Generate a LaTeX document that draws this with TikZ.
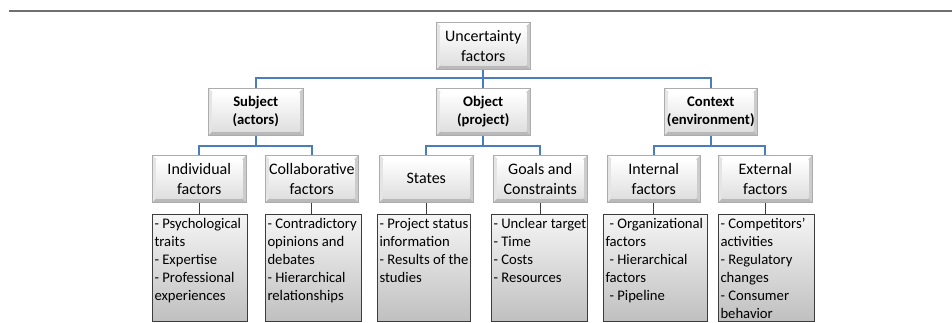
\documentclass[tikz,border=0pt]{standalone}
\usepackage{fontspec}
\setmainfont{Carlito}
\definecolor{conblue}{HTML}{4A7EBB}
\definecolor{rulegray}{HTML}{707070}
\definecolor{detline}{HTML}{3C3C3C}
\newcommand\dtext[2]{\parbox[c][78.25pt][t]{#1}{#2}}
\newcommand\dl[1]{\mbox{\strut#1}\par}
\tikzset{
  bevelbox/.style={draw=gray!65, line width=0.4pt, anchor=north west, align=center, inner sep=0pt,
    minimum height=35.25pt,
    path picture={
      \fill[gray!55] (path picture bounding box.south west) rectangle (path picture bounding box.north east);
      \fill[white] (path picture bounding box.north west) -- (path picture bounding box.north east)
        -- ([shift={(-3pt,-3pt)}]path picture bounding box.north east) -- ([shift={(3pt,-3pt)}]path picture bounding box.north west) -- cycle;
      \fill[gray!20] (path picture bounding box.north west) -- ([shift={(3pt,-3pt)}]path picture bounding box.north west)
        -- ([shift={(3pt,3pt)}]path picture bounding box.south west) -- (path picture bounding box.south west) -- cycle;
      \fill[gray!40] (path picture bounding box.north east) -- ([shift={(-3pt,-3pt)}]path picture bounding box.north east)
        -- ([shift={(-3pt,3pt)}]path picture bounding box.south east) -- (path picture bounding box.south east) -- cycle;
      \shade[top color=white, bottom color=gray!25] ([shift={(3pt,-3pt)}]path picture bounding box.north west)
        rectangle ([shift={(-3pt,3pt)}]path picture bounding box.south east);
    }},
  plainfont/.style={font=\fontsize{12pt}{15pt}\selectfont},
  boldfont/.style={font=\bfseries\fontsize{11pt}{13.5pt}\selectfont},
  detailbox/.style={draw=detline, line width=0.75pt, anchor=north west, top color=gray!8, bottom color=gray!50,
    inner xsep=1.5pt, inner ysep=1pt, minimum height=80.25pt, font=\fontsize{11pt}{13.5pt}\selectfont},
  blu/.style={draw=conblue, line width=1.5pt},
  gry/.style={draw=detline, line width=0.75pt},
}
\begin{document}
\begin{tikzpicture}[x=0.75pt, y=-0.75pt]
\useasboundingbox (0,0) rectangle (952,322);
\draw[rulegray, line width=1.5pt] (9,11) -- (952,11);
% level 0
\node[bevelbox, plainfont, minimum width=70.5pt] (top) at (436,22) {Uncertainty\\factors};
% level 1
\node[bevelbox, boldfont, minimum width=71.25pt] (subj) at (208,88) {Subject\\(actors)};
\node[bevelbox, boldfont, minimum width=70.5pt] (obj) at (436,88) {Object\\(project)};
\node[bevelbox, boldfont, minimum width=69.75pt] (ctx) at (664,88) {Context\\(environment)};
% level 2
\node[bevelbox, plainfont, minimum width=70.5pt] (ind) at (152,155) {Individual\\factors};
\node[bevelbox, plainfont, minimum width=69.75pt] (coll) at (265,155) {Collaborative\\factors};
\node[bevelbox, plainfont, minimum width=70.5pt] (sta) at (379,155) {States};
\node[bevelbox, plainfont, minimum width=70.5pt] (goal) at (493,155) {Goals and\\Constraints};
\node[bevelbox, plainfont, minimum width=69.75pt] (int) at (607,155) {Internal\\factors};
\node[bevelbox, plainfont, minimum width=70.5pt] (ext) at (718,155) {External\\factors};
% details
\node[detailbox, minimum width=71.25pt] (indd) at (152,214) {\dtext{68.25pt}{%
  \dl{- Psychological}\dl{traits}\dl{- Expertise}\dl{- Professional}\dl{experiences}}};
\node[detailbox, minimum width=72pt] (colld) at (265,214) {\dtext{69pt}{%
  \dl{- Contradictory}\dl{opinions and}\dl{debates}\dl{- Hierarchical}\dl{relationships}}};
\node[detailbox, minimum width=69.75pt] (stad) at (377,214) {\dtext{66.75pt}{%
  \dl{- Project status}\dl{information}\dl{- Results of the}\dl{studies}}};
\node[detailbox, minimum width=72pt] (goald) at (491,214) {\dtext{69pt}{%
  \dl{- Unclear target}\dl{- Time}\dl{- Costs}\dl{- Resources}}};
\node[detailbox, minimum width=78pt] (intd) at (603,214) {\dtext{75pt}{%
  \dl{\hspace*{3pt}- Organizational}\dl{factors}\dl{\hspace*{3pt}- Hierarchical}\dl{factors}\dl{\hspace*{3pt}- Pipeline}}};
\node[detailbox, minimum width=72pt] (extd) at (718,214) {\dtext{69pt}{%
  \dl{- Competitors’}\dl{activities}\dl{- Regulatory}\dl{changes}\dl{- Consumer}\dl{behavior}}};
% blue connectors
\draw[blu] (top.south) -- ++(0,8) -| (subj.north);
\draw[blu] (top.south) -- ++(0,8) -| (ctx.north);
\draw[blu] (top.south) -- (obj.north);
\draw[blu] (subj.south) -- ++(0,10) -| (ind.north);
\draw[blu] (subj.south) -- ++(0,10) -| (coll.north);
\draw[blu] (obj.south) -- ++(0,10) -| (sta.north);
\draw[blu] (obj.south) -- ++(0,10) -| (goal.north);
\draw[blu] (ctx.south) -- ++(0,10) -| (int.north);
\draw[blu] (ctx.south) -- ++(0,10) -| (ext.north);
% gray connectors
\draw[gry] (ind.south) -- (ind.south |- indd.north);
\draw[gry] (coll.south) -- (coll.south |- colld.north);
\draw[gry] (sta.south) -- (sta.south |- stad.north);
\draw[gry] (goal.south) -- (goal.south |- goald.north);
\draw[gry] (int.south) -- (int.south |- intd.north);
\draw[gry] (ext.south) -- (ext.south |- extd.north);
\end{tikzpicture}
\end{document}
